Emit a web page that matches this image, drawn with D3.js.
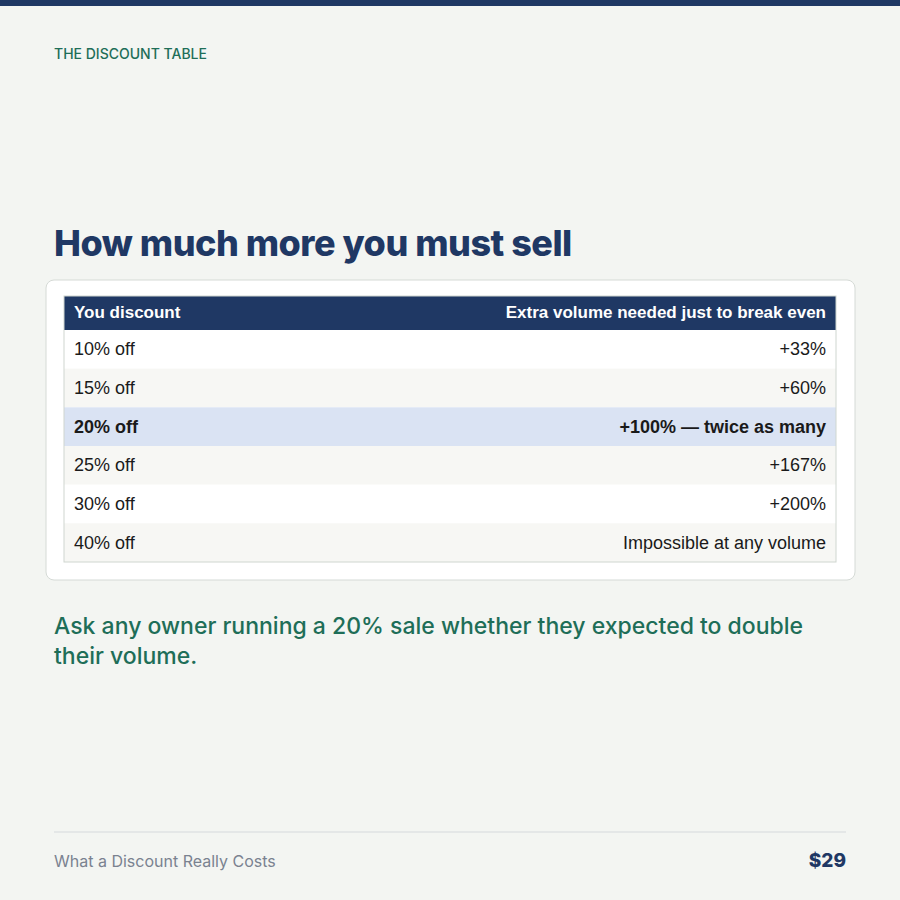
<!DOCTYPE html>
<html><head><meta charset="utf-8">
<script src="https://cdn.jsdelivr.net/npm/d3@7"></script>
<style>body{margin:0;background:#f3f5f2;}</style>
</head><body>
<div id="chart"></div>
<script>
// table data
var headers = ['You discount', 'Extra volume needed just to break even'];
var discounts = ['10% off', '15% off', '20% off', '25% off', '30% off', '40% off'];
var extraVolume = ['+33%', '+60%', '+100% \u2014 twice as many', '+167%', '+200%', 'Impossible at any volume'];
var highlightRow = '20% off';

const width = 900, height = 900;
const navy = '#1f3864', green = '#1e6e58';

var svg = d3.select('#chart').append('svg')
    .attr('width', width).attr('height', height)
    .style('font-family', 'Liberation Sans, Arial, sans-serif');

svg.append('rect').attr('width', width).attr('height', height).attr('fill', '#f3f5f2');
svg.append('rect').attr('width', width).attr('height', 6).attr('fill', navy);

svg.append('text').text('THE DISCOUNT TABLE')
    .attr('x', 54).attr('y', 59)
    .style('font-family', 'Inter, sans-serif').style('font-size', '14px')
    .style('font-weight', 500).attr('fill', green);

svg.append('text').text('How much more you must sell')
    .attr('x', 54).attr('y', 256)
    .style('font-family', 'Inter, sans-serif').style('font-size', '36px')
    .style('font-weight', 800).style('letter-spacing', '-0.5px').attr('fill', navy);

// card
svg.append('rect').attr('x', 46).attr('y', 280).attr('width', 809).attr('height', 300)
    .attr('rx', 8).attr('fill', '#fff').attr('stroke', '#d5dad6');

var left = 64, right = 836;
var y = d3.scaleBand().domain(discounts).range([330, 562]);

svg.append('rect').attr('x', left).attr('y', 296).attr('width', right - left).attr('height', 34).attr('fill', navy);
svg.append('text').text(headers[0]).attr('x', left + 10).attr('y', 318)
    .attr('fill', '#fff').style('font-size', '17px').style('font-weight', 'bold');
svg.append('text').text(headers[1]).attr('x', right - 10).attr('y', 318).attr('text-anchor', 'end')
    .attr('fill', '#fff').style('font-size', '17px').style('font-weight', 'bold');

var rows = svg.selectAll('.row').data(discounts).enter().append('g').attr('class', 'row')
    .attr('transform', d => `translate(0,${y(d)})`);

rows.append('rect').attr('x', left).attr('width', right - left).attr('height', y.bandwidth())
    .attr('fill', (d, i) => d === highlightRow ? '#dae3f3' : (i % 2 ? '#f7f7f4' : '#fff'));

rows.append('text').text(d => d).attr('x', left + 10).attr('y', y.bandwidth() / 2 + 6)
    .attr('fill', '#1a1a1a').style('font-size', '18px')
    .style('font-weight', d => d === highlightRow ? 'bold' : 'normal');

rows.append('text').text((d, i) => extraVolume[i]).attr('x', right - 10).attr('y', y.bandwidth() / 2 + 6)
    .attr('text-anchor', 'end').attr('fill', '#1a1a1a').style('font-size', '18px')
    .style('font-weight', d => d === highlightRow ? 'bold' : 'normal');

svg.append('rect').attr('x', left).attr('y', 296).attr('width', right - left).attr('height', 266)
    .attr('fill', 'none').attr('stroke', '#cfd6d0');

// caption
['Ask any owner running a 20% sale whether they expected to double', 'their volume.'].forEach((t, i) => {
    svg.append('text').text(t).attr('x', 54).attr('y', 634 + i * 30)
        .style('font-family', 'Inter, sans-serif').style('font-size', '23px')
        .style('font-weight', 500).attr('fill', green);
});

// footer
svg.append('line').attr('x1', 54).attr('x2', 846).attr('y1', 832).attr('y2', 832).attr('stroke', '#d5d9dc');
svg.append('text').text('What a Discount Really Costs').attr('x', 54).attr('y', 867)
    .style('font-family', 'Inter, sans-serif').style('font-size', '16px').attr('fill', '#7a8290');
svg.append('text').text('$29').attr('x', 846).attr('y', 867).attr('text-anchor', 'end')
    .style('font-family', 'Inter, sans-serif').style('font-size', '19px').style('font-weight', 800).attr('fill', navy);
</script>
</body></html>
